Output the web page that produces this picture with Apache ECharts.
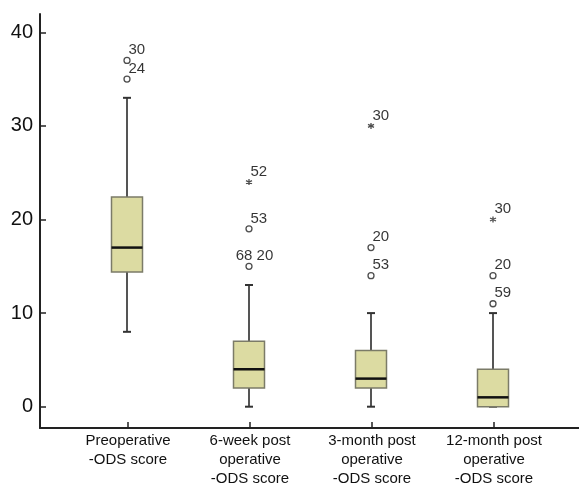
<!DOCTYPE html>
<html><head><meta charset="utf-8">
<script src="https://cdn.jsdelivr.net/npm/echarts/dist/echarts.min.js"></script>
<style>html,body{margin:0;padding:0;background:#fff}#c{width:579px;height:483px}</style>
</head><body><div id="c"></div>
<script>
const categories = ['Preoperative\n-ODS score', '6-week post\noperative\n-ODS score', '3-month post\noperative\n-ODS score', '12-month post\noperative\n-ODS score'];
const whiskerLow = [8, 0, 0, 0];
const q1 = [14.4, 2, 2, 0];
const median = [17, 4, 3, 1];
const q3 = [22.4, 7, 6, 4];
const whiskerHigh = [33, 13, 10, 10];
const circleCat = [0, 0, 1, 1, 2, 2, 3, 3];
const circleVal = [37, 35, 19, 15, 17, 14, 14, 11];
const circleLab = ['30', '24', '53', '68 20', '20', '53', '20', '59'];
const starCat = [1, 2, 3];
const starVal = [24, 30, 20];
const starLab = ['52', '30', '30'];
const yTickMin = 0, yTickMax = 40, yTickStep = 10;

const boxData = categories.map((c, i) => [i, whiskerLow[i], q1[i], median[i], q3[i], whiskerHigh[i]]);
const lblStyle = (t) => ({
  show: true, formatter: t, position: 'inside',
  align: t.indexOf(' ') >= 0 ? 'center' : 'left', verticalAlign: 'middle',
  offset: t.indexOf(' ') >= 0 ? [5.5, -10.5] : [1.5, -10.5],
  fontFamily: 'Liberation Sans, Arial, sans-serif', fontSize: 15, color: '#000'
});
const circleData = circleVal.map((v, i) => ({ value: [circleCat[i], v], label: lblStyle(circleLab[i]) }));
const starData = starVal.map((v, i) => ({ value: [starCat[i], v], label: lblStyle(starLab[i]) }));
const catPos = categories.map((c, i) => i + 1);

const chart = echarts.init(document.getElementById('c'), null, { renderer: 'canvas' });
const font = 'Liberation Sans, Arial, sans-serif';
chart.setOption({
  animation: false,
  backgroundColor: '#fff',
  grid: [
    { left: 67, right: 24, top: 32.3, bottom: 76.3, containLabel: false, outerBoundsMode: 'none' },
    { left: 40, right: 0, top: 14, bottom: 55, containLabel: false, outerBoundsMode: 'none' }
  ],
  xAxis: [
    {
      type: 'category', gridIndex: 0, data: categories, show: false
    },
    {
      type: 'value', gridIndex: 1, min: 1 - 88 / 122, max: 4 + 85 / 122,
      axisLine: { show: true, lineStyle: { color: '#222', width: 2 } },
      axisTick: { show: true, inside: true, length: 6, customValues: catPos, lineStyle: { color: '#222', width: 1.5 } },
      axisLabel: {
        show: true, customValues: catPos, formatter: (v) => categories[Math.round(v) - 1] || '',
        fontFamily: font, fontSize: 15, lineHeight: 19, color: '#111', margin: 3
      },
      splitLine: { show: false }
    }
  ],
  yAxis: [
    {
      type: 'value', gridIndex: 0, min: yTickMin, max: yTickMax, interval: yTickStep, offset: 27,
      axisLine: { show: false },
      axisTick: { show: true, inside: true, length: 6, lineStyle: { color: '#222', width: 1.5 } },
      axisLabel: { fontFamily: font, fontSize: 20, color: '#111', margin: 7 },
      splitLine: { show: false }
    },
    {
      type: 'value', gridIndex: 1, min: 0, max: 1,
      axisLine: { show: true, lineStyle: { color: '#222', width: 2 } },
      axisTick: { show: false }, axisLabel: { show: false }, splitLine: { show: false }
    }
  ],
  series: [
    {
      type: 'custom', xAxisIndex: 0, yAxisIndex: 0, data: boxData,
      encode: { x: 0, y: [1, 2, 3, 4, 5] },
      renderItem: function (params, api) {
        const i = api.value(0);
        const x = api.coord([i, 0])[0] - 1;
        const yLow = api.coord([i, api.value(1)])[1];
        const yQ1 = api.coord([i, api.value(2)])[1];
        const yMed = api.coord([i, api.value(3)])[1];
        const yQ3 = api.coord([i, api.value(4)])[1];
        const yHigh = api.coord([i, api.value(5)])[1];
        const hw = 15.5, cw = 4;
        const ws = { stroke: '#555', lineWidth: 2 };
        const cs = { stroke: '#333', lineWidth: 2 };
        return {
          type: 'group', children: [
            { type: 'line', shape: { x1: x, y1: yHigh, x2: x, y2: yQ3 }, style: ws },
            { type: 'line', shape: { x1: x, y1: yLow, x2: x, y2: yQ1 }, style: ws },
            { type: 'line', shape: { x1: x - cw, y1: yHigh, x2: x + cw, y2: yHigh }, style: cs },
            { type: 'line', shape: { x1: x - cw, y1: yLow, x2: x + cw, y2: yLow }, style: cs },
            { type: 'rect', shape: { x: x - hw, y: yQ3, width: 2 * hw, height: yQ1 - yQ3 }, style: { fill: '#dcdba2', stroke: '#7b7b68', lineWidth: 1.5 } },
            { type: 'line', shape: { x1: x - hw, y1: yMed, x2: x + hw, y2: yMed }, style: { stroke: '#111', lineWidth: 2.5 } }
          ]
        };
      }
    },
    {
      type: 'scatter', xAxisIndex: 0, yAxisIndex: 0, data: circleData,
      symbol: 'circle', symbolSize: 6, symbolOffset: [-1, 0],
      itemStyle: { color: '#fff', borderColor: '#222', borderWidth: 1.3 }
    },
    {
      type: 'scatter', xAxisIndex: 0, yAxisIndex: 0, data: starData,
      symbol: 'path://M0,-1L0,1M-0.87,-0.5L0.87,0.5M-0.87,0.5L0.87,-0.5', symbolSize: 6, symbolOffset: [-1, 0],
      itemStyle: { color: 'none', borderColor: '#222', borderWidth: 1.3 }
    }
  ]
});
</script>
</body></html>
